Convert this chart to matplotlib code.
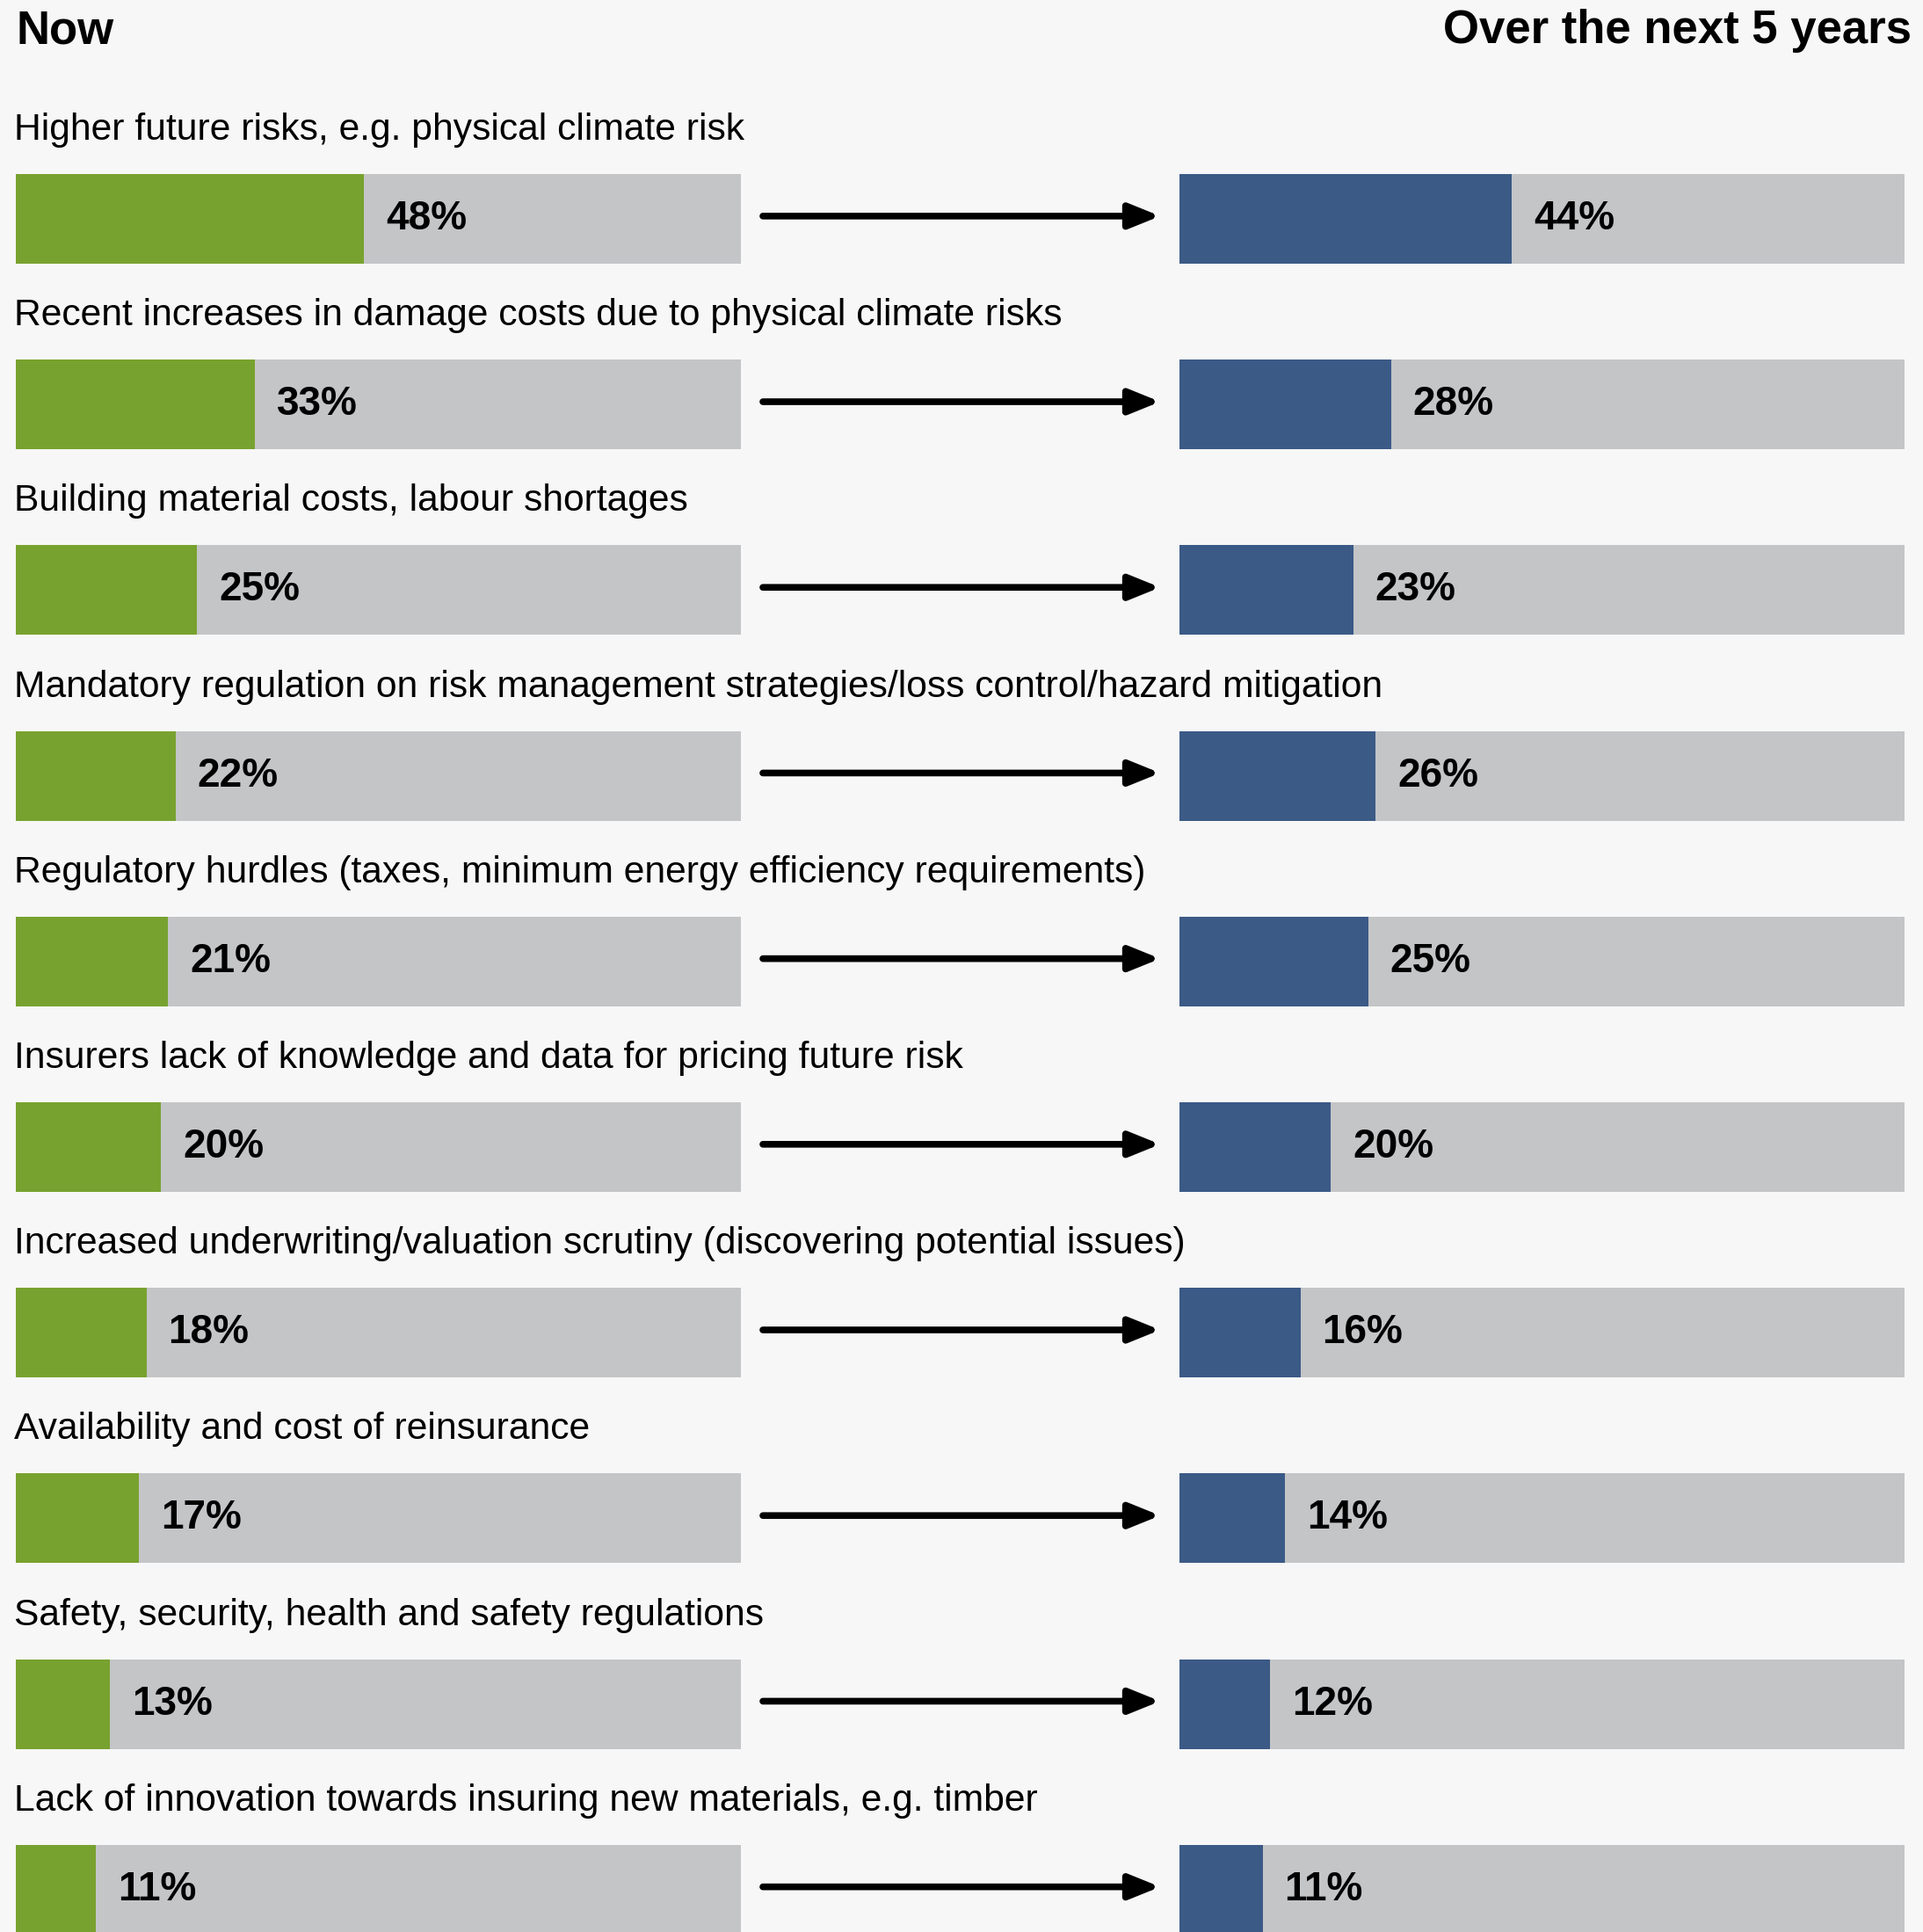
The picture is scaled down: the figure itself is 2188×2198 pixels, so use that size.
import matplotlib
matplotlib.use("Agg")
import matplotlib.pyplot as plt
from matplotlib.transforms import blended_transform_factory

# data
categories = [
    "Higher future risks, e.g. physical climate risk",
    "Recent increases in damage costs due to physical climate risks",
    "Building material costs, labour shortages",
    "Mandatory regulation on risk management strategies/loss control/hazard mitigation",
    "Regulatory hurdles (taxes, minimum energy efficiency requirements)",
    "Insurers lack of knowledge and data for pricing future risk",
    "Increased underwriting/valuation scrutiny (discovering potential issues)",
    "Availability and cost of reinsurance",
    "Safety, security, health and safety regulations",
    "Lack of innovation towards insuring new materials, e.g. timber",
]
now_vals = [48, 33, 25, 22, 21, 20, 18, 17, 13, 11]
future_vals = [44, 28, 23, 26, 25, 20, 16, 14, 12, 11]

title_left = "Now"
title_right = "Over the next 5 years"

BG = "#f7f7f7"
GREEN = "#78a22f"
BLUE = "#3b5a86"
GREY = "#c4c5c7"

plt.rcParams['font.family'] = ['Liberation Sans', 'DejaVu Sans']

W, H = 2188, 2198
fig = plt.figure(figsize=(W / 100, H / 100), dpi=100, facecolor=BG)

pitch = 211.2      # px between rows
first = 249        # px from top to first bar centre
top = -first / pitch
bottom = (H - first) / pitch

ax_l = fig.add_axes([18 / W, 0, 825 / W, 1])
ax_r = fig.add_axes([1342 / W, 0, 825 / W, 1])

rows = list(range(len(categories)))

for ax, vals, col, xmax in [(ax_l, now_vals, GREEN, 100), (ax_r, future_vals, BLUE, 96)]:
    ax.set_facecolor("none")
    ax.barh(rows, [xmax] * len(rows), height=0.483, color=GREY, left=0)
    ax.barh(rows, vals, height=0.483, color=col)
    for i, v in zip(rows, vals):
        ax.annotate(f"{v}%", xy=(v, i), xytext=(18, 0), textcoords="offset points",
                    ha="left", va="center", fontsize=33, fontweight="bold", color="black")
    ax.set_xlim(0, xmax)
    ax.set_ylim(bottom, top)
    ax.axis("off")

for i, cat in zip(rows, categories):
    ax_l.text(-0.25, i - 0.478, cat, ha="left", va="center", fontsize=30.7, color="black")

# arrows between the two columns
tr = blended_transform_factory(fig.transFigure, ax_l.transData)
for i in rows:
    ax_l.annotate("", xy=(1320 / W, i - 0.015), xycoords=tr, xytext=(868 / W, i - 0.015), textcoords=tr,
                  arrowprops=dict(arrowstyle="-|>,head_length=2.1,head_width=0.85", lw=5.5,
                                  color="black", capstyle="round", shrinkA=0, shrinkB=0),
                  annotation_clip=False)

fig.text(18 / W, 1 - 35 / H, title_left, ha="left", va="center", fontsize=38, fontweight="bold")
fig.text(2175 / W, 1 - 35 / H, title_right, ha="right", va="center", fontsize=38, fontweight="bold")

fig.savefig("out.png", dpi=100, facecolor=BG)
